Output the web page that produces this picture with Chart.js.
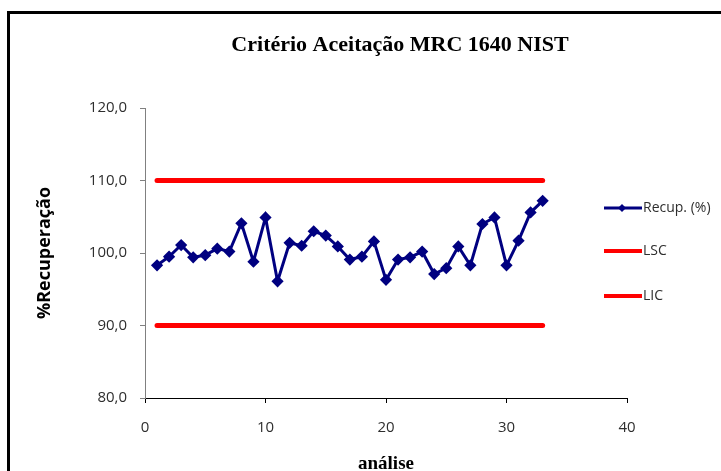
<!DOCTYPE html>
<html><head><meta charset="utf-8">
<script src="https://cdn.jsdelivr.net/npm/chart.js@4/dist/chart.umd.min.js"></script>
<style>html,body{margin:0;padding:0;background:#fff}#c{display:block}</style>
</head><body>
<canvas id="c" width="721" height="471"></canvas>
<script>
const analise = [1,2,3,4,5,6,7,8,9,10,11,12,13,14,15,16,17,18,19,20,21,22,23,24,25,26,27,28,29,30,31,32,33];
const recup = [98.3,99.5,101.1,99.4,99.7,100.6,100.2,104.1,98.8,104.9,96.1,101.4,101.0,103.0,102.4,100.9,99.1,99.5,101.6,96.3,99.1,99.4,100.2,97.1,97.9,100.9,98.3,104.0,104.9,98.3,101.7,105.6,107.2];
const lsc = [110,110,110,110,110,110,110,110,110,110,110,110,110,110,110,110,110,110,110,110,110,110,110,110,110,110,110,110,110,110,110,110,110];
const lic = [90,90,90,90,90,90,90,90,90,90,90,90,90,90,90,90,90,90,90,90,90,90,90,90,90,90,90,90,90,90,90,90,90];
const seriesNames = ['Recup. (%)','LSC','LIC'];
const titleText = 'Critério Aceitação MRC 1640 NIST';
const xTitle = 'análise';
const yTitle = '%Recuperação';

const pts = arr => arr.map((v,i)=>({x:analise[i], y:v}));
const tickFont = {family:'Open Sans', size:15};
const tickColor = '#2e2e2e';

const framePlugin = {
  id:'frame',
  beforeDraw(chart){
    const ctx = chart.ctx;
    ctx.save();
    ctx.fillStyle='#fff'; ctx.fillRect(0,0,chart.width,chart.height);
    ctx.strokeStyle='#000'; ctx.lineWidth=3;
    ctx.strokeRect(8.5,12.5,760,500);
    ctx.restore();
  },
  afterDraw(chart){
    const ctx = chart.ctx;
    ctx.save();
    ctx.fillStyle='#000';
    ctx.font='bold 22px "Liberation Serif"';
    ctx.textAlign='center'; ctx.textBaseline='middle';
    ctx.fillText(titleText, 400, 45);
    const items = [
      {y:208, color:'#000080', w:3, marker:true},
      {y:251, color:'#ff0000', w:4, marker:false},
      {y:296, color:'#ff0000', w:4, marker:false}
    ];
    ctx.font='14px "Open Sans"'; ctx.textAlign='left';
    items.forEach((it,i)=>{
      ctx.strokeStyle=it.color; ctx.lineWidth=it.w;
      ctx.beginPath(); ctx.moveTo(604,it.y); ctx.lineTo(642,it.y); ctx.stroke();
      if(it.marker){
        ctx.fillStyle=it.color;
        ctx.beginPath(); ctx.moveTo(622,it.y-4); ctx.lineTo(626,it.y); ctx.lineTo(622,it.y+4); ctx.lineTo(618,it.y); ctx.closePath(); ctx.fill();
      }
      ctx.fillStyle=tickColor;
      ctx.fillText(seriesNames[i], 643, it.y);
    });
    ctx.restore();
  }
};

new Chart(document.getElementById('c'), {
  type:'scatter',
  data:{datasets:[
    {label:seriesNames[0], data:pts(recup), showLine:true, borderColor:'#000080', backgroundColor:'#000080', borderWidth:3, pointStyle:'rectRot', pointRadius:4, pointHoverRadius:4, order:0},
    {label:seriesNames[1], data:pts(lsc), showLine:true, borderColor:'#ff0000', borderWidth:5, pointRadius:0, borderCapStyle:'round', order:1},
    {label:seriesNames[2], data:pts(lic), showLine:true, borderColor:'#ff0000', borderWidth:5, pointRadius:0, borderCapStyle:'round', order:1}
  ]},
  options:{
    responsive:false, animation:false, devicePixelRatio:1,
    layout:{padding:{left:34, right:94, top:108, bottom:0}},
    plugins:{legend:{display:false}, title:{display:false}, tooltip:{enabled:false}},
    scales:{
      x:{type:'linear', min:0, max:40, ticks:{stepSize:10, font:tickFont, color:tickColor, padding:16},
         grid:{drawOnChartArea:false, drawTicks:true, tickLength:5, color:'#000'},
         border:{color:'#000', width:1},
         title:{display:true, text:xTitle, font:{family:'Liberation Serif', size:19, weight:'bold'}, color:'#000', padding:{top:4,bottom:-4}},
         afterFit(s){ s.height = 73; }},
      y:{min:80, max:120, ticks:{stepSize:10, font:tickFont, color:tickColor, padding:13, callback:v=>v.toFixed(1).replace('.',',')},
         grid:{drawOnChartArea:false, drawTicks:true, tickLength:5, color:'#808080'},
         border:{color:'#808080', width:1},
         title:{display:true, text:yTitle, font:{family:'Open Sans', size:18, weight:'bold'}, color:'#000', padding:{top:0,bottom:0}},
         afterFit(s){ s.width = 111; }}
    }
  },
  plugins:[framePlugin]
});
</script>
</body></html>
